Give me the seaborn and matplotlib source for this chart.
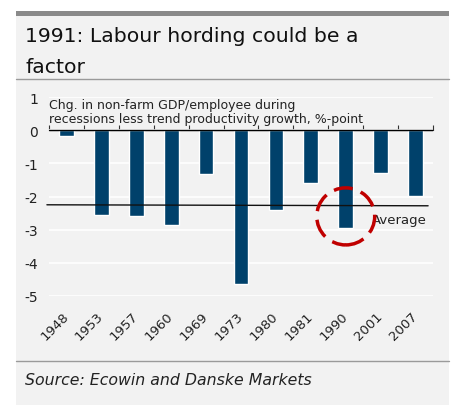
import matplotlib
matplotlib.use("Agg")
import matplotlib.pyplot as plt
import seaborn as sns
import pandas as pd
from matplotlib.patches import Rectangle, Ellipse
from matplotlib.lines import Line2D

# ---- data ----
years = ["1948", "1953", "1957", "1960", "1969", "1973", "1980", "1981", "1990", "2001", "2007"]
values = [-0.17, -2.57, -2.60, -2.86, -1.31, -4.65, -2.42, -1.58, -2.95, -1.28, -1.97]
average_start = -2.25
average_end = -2.28
yticks = [1, 0, -1, -2, -3, -4, -5]

title_line1 = "1991: Labour hording could be a"
title_line2 = "factor"
subtitle = "Chg. in non-farm GDP/employee during\nrecessions less trend productivity growth, %-point"
source = "Source: Ecowin and Danske Markets"

BAR = "#00416b"
BG = "#f2f2f2"
FONT = ["DejaVu Sans"]

sns.set_style("white")
plt.rcParams["font.family"] = FONT

W, H = 459, 406
fig = plt.figure(figsize=(W / 100, H / 100), dpi=100, facecolor="white")

def fx(px):
    return px / W

def fy(py):
    return 1 - py / H

# panel background
fig.patches.append(Rectangle((fx(16), 0), fx(449) - fx(16), fy(16), transform=fig.transFigure,
                             facecolor=BG, edgecolor="none", zorder=-5))
# top dark bar
fig.patches.append(Rectangle((fx(16), fy(17)), fx(449) - fx(16), fy(12) - fy(17), transform=fig.transFigure,
                             facecolor="#8a8a8a", edgecolor="none", zorder=-4))
# separators
for yy in (80, 362):
    fig.lines.append(Line2D([fx(16), fx(449)], [fy(yy), fy(yy)], transform=fig.transFigure,
                            color="#9a9a9a", lw=1.0, zorder=-3))

fig.text(fx(25), fy(42), title_line1, fontsize=14.7, color="#111111", va="baseline", ha="left")
fig.text(fx(25), fy(73), title_line2, fontsize=14.7, color="#111111", va="baseline", ha="left")
fig.text(fx(25), fy(381), source, fontsize=11.3, style="italic", color="#222222", va="center", ha="left")

ax = fig.add_axes([fx(49), fy(297), fx(433) - fx(49), fy(98) - fy(297)], zorder=2)
ax.set_facecolor(BG)

df = pd.DataFrame({"year": years, "value": values})
sns.barplot(data=df, x="year", y="value", color=BAR, width=0.42, saturation=1, ax=ax, zorder=3)

ax.set_xlim(-0.5, len(years) - 0.5)
ax.set_ylim(-5, 1)
ax.set_yticks(yticks)
ax.set_yticklabels([str(v) for v in yticks], fontsize=10, color="#222222")
ax.yaxis.grid(True, color="white", lw=1.2)
ax.set_axisbelow(True)
for s in ax.spines.values():
    s.set_visible(False)
ax.tick_params(axis="y", length=0, pad=8)
ax.tick_params(axis="x", length=0, pad=13, labelsize=9.5)
for lbl in ax.get_xticklabels():
    lbl.set_rotation(45)
    lbl.set_ha("right")
    lbl.set_va("center")
    lbl.set_rotation_mode("anchor")
    lbl.set_color("#222222")
ax.set_xlabel("")
ax.set_ylabel("")

# zero line with boundary ticks
ax.axhline(0, color="black", lw=1.0, zorder=4)
sec = ax.secondary_xaxis(5 / 6)
sec.set_xticks([i - 0.5 for i in range(len(years) + 1)])
sec.set_xticklabels([])
sec.tick_params(axis="x", direction="out", length=3.5, width=0.8, color="#333333")
sec.spines["bottom"].set_visible(False)

# average line
ax.plot([-0.56, 10.36], [average_start, average_end], color="#111111", lw=1.0, zorder=5, clip_on=False)
ax.text(8.75, -2.7, "Average", fontsize=9.5, color="#222222", va="center", ha="left", zorder=6)

# red dashed circle
ax.add_patch(Ellipse((8, -2.6), width=1.66, height=1.72, fill=False, edgecolor="#c00000",
                     lw=2.5, linestyle=(0, (5.5, 2.5)), zorder=6))

ax.text(0.0, 0.995, subtitle, transform=ax.transAxes, fontsize=9, color="#222222",
        va="top", ha="left", linespacing=1.1, zorder=6)

fig.savefig("out.png", dpi=100, facecolor="white")
